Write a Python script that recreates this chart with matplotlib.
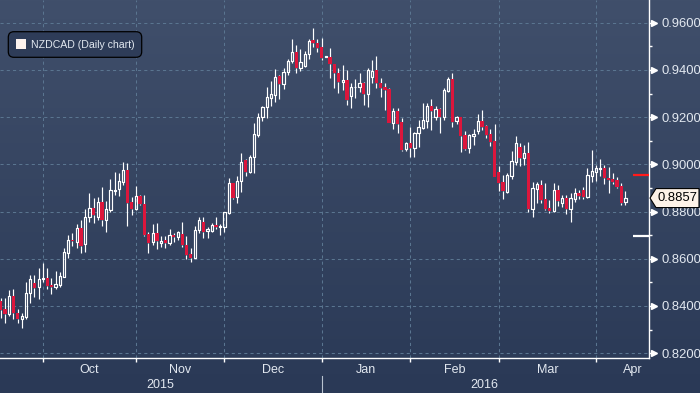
import matplotlib
matplotlib.use('Agg')
import matplotlib.pyplot as plt
import numpy as np
from matplotlib.patches import Rectangle, FancyBboxPatch, Polygon
from matplotlib.collections import LineCollection, PatchCollection
from matplotlib.transforms import blended_transform_factory

plt.rcParams['font.family'] = ['Liberation Sans', 'DejaVu Sans']

# ---- data (NZDCAD daily, 17 Sep 2015 .. 12 Apr 2016) ----
opens = [0.8421, 0.8387, 0.8366, 0.8442, 0.8370, 0.8345, 0.8353, 0.8455, 0.8497, 0.8480,
         0.8514, 0.8518, 0.8489, 0.8480, 0.8489, 0.8523, 0.8624, 0.8679, 0.8671, 0.8730,
         0.8662, 0.8777, 0.8815, 0.8777, 0.8840, 0.8764, 0.8806, 0.8887, 0.8895, 0.8925,
         0.8976, 0.8840, 0.8811, 0.8866, 0.8832, 0.8705, 0.8671, 0.8709, 0.8667, 0.8679,
         0.8667, 0.8701, 0.8692, 0.8705, 0.8658, 0.8620, 0.8603, 0.8722, 0.8756, 0.8717,
         0.8717, 0.8743, 0.8734, 0.8734, 0.8794, 0.8921, 0.8862, 0.8929, 0.9018, 0.8967,
         0.9031, 0.9124, 0.9200, 0.9243, 0.9281, 0.9294, 0.9374, 0.9340, 0.9391, 0.9438,
         0.9476, 0.9408, 0.9417, 0.9467, 0.9527, 0.9514, 0.9497, 0.9455, 0.9455, 0.9425,
         0.9387, 0.9349, 0.9357, 0.9289, 0.9326, 0.9328, 0.9345, 0.9298, 0.9370, 0.9400,
         0.9345, 0.9328, 0.9319, 0.9175, 0.9226, 0.9179, 0.9065, 0.9090, 0.9069, 0.9133,
         0.9154, 0.9184, 0.9247, 0.9200, 0.9234, 0.9200, 0.9311, 0.9361, 0.9184, 0.9200,
         0.9124, 0.9069, 0.9120, 0.9141, 0.9184, 0.9162, 0.9128, 0.9099, 0.8967, 0.8925,
         0.8883, 0.8950, 0.9010, 0.9073, 0.9027, 0.9048, 0.8811, 0.8895, 0.8912, 0.8853,
         0.8815, 0.8802, 0.8891, 0.8836, 0.8857, 0.8811, 0.8853, 0.8878, 0.8891, 0.8862,
         0.8950, 0.8967, 0.8980, 0.8984, 0.8942, 0.8938, 0.8934, 0.8908, 0.8840]
highs = [0.8434, 0.8434, 0.8467, 0.8472, 0.8387, 0.8370, 0.8501, 0.8531, 0.8531, 0.8561,
         0.8582, 0.8561, 0.8518, 0.8548, 0.8544, 0.8645, 0.8701, 0.8709, 0.8747, 0.8764,
         0.8811, 0.8878, 0.8857, 0.8862, 0.8904, 0.8845, 0.8938, 0.8967, 0.8963, 0.9010,
         0.9006, 0.8862, 0.8908, 0.8870, 0.8870, 0.8713, 0.8747, 0.8751, 0.8696, 0.8696,
         0.8726, 0.8709, 0.8717, 0.8756, 0.8696, 0.8645, 0.8739, 0.8777, 0.8777, 0.8734,
         0.8751, 0.8777, 0.8747, 0.8798, 0.8942, 0.8921, 0.8950, 0.9048, 0.9023, 0.9039,
         0.9175, 0.9217, 0.9247, 0.9328, 0.9353, 0.9404, 0.9378, 0.9408, 0.9446, 0.9531,
         0.9506, 0.9489, 0.9480, 0.9531, 0.9578, 0.9531, 0.9535, 0.9459, 0.9493, 0.9425,
         0.9408, 0.9421, 0.9400, 0.9345, 0.9361, 0.9387, 0.9349, 0.9408, 0.9442, 0.9459,
         0.9366, 0.9345, 0.9323, 0.9239, 0.9239, 0.9196, 0.9095, 0.9158, 0.9137, 0.9188,
         0.9260, 0.9260, 0.9277, 0.9247, 0.9239, 0.9323, 0.9370, 0.9387, 0.9205, 0.9200,
         0.9141, 0.9128, 0.9150, 0.9213, 0.9230, 0.9167, 0.9150, 0.9171, 0.8993, 0.8955,
         0.8963, 0.9056, 0.9120, 0.9090, 0.9082, 0.9095, 0.8925, 0.8925, 0.8934, 0.8921,
         0.8849, 0.8921, 0.8912, 0.8870, 0.8870, 0.8878, 0.8900, 0.8891, 0.8904, 0.8984,
         0.9061, 0.8997, 0.9023, 0.8997, 0.8989, 0.8963, 0.8946, 0.8921, 0.8887]
lows = [0.8349, 0.8328, 0.8357, 0.8345, 0.8328, 0.8307, 0.8345, 0.8412, 0.8438, 0.8429,
        0.8501, 0.8472, 0.8451, 0.8472, 0.8480, 0.8523, 0.8603, 0.8654, 0.8645, 0.8624,
        0.8628, 0.8756, 0.8751, 0.8764, 0.8739, 0.8713, 0.8798, 0.8870, 0.8866, 0.8912,
        0.8739, 0.8785, 0.8806, 0.8828, 0.8696, 0.8624, 0.8658, 0.8641, 0.8650, 0.8645,
        0.8658, 0.8671, 0.8679, 0.8650, 0.8599, 0.8586, 0.8603, 0.8709, 0.8688, 0.8688,
        0.8713, 0.8726, 0.8701, 0.8713, 0.8790, 0.8853, 0.8836, 0.8883, 0.8950, 0.8963,
        0.8963, 0.9116, 0.9184, 0.9196, 0.9247, 0.9264, 0.9277, 0.9319, 0.9378, 0.9429,
        0.9387, 0.9395, 0.9412, 0.9446, 0.9497, 0.9476, 0.9442, 0.9455, 0.9366, 0.9323,
        0.9302, 0.9315, 0.9251, 0.9239, 0.9281, 0.9306, 0.9251, 0.9243, 0.9345, 0.9323,
        0.9285, 0.9230, 0.9175, 0.9150, 0.9133, 0.9056, 0.9056, 0.9031, 0.9031, 0.9073,
        0.9150, 0.9154, 0.9145, 0.9188, 0.9133, 0.9188, 0.9306, 0.9158, 0.9171, 0.9052,
        0.9061, 0.9048, 0.9082, 0.9128, 0.9145, 0.9111, 0.9078, 0.8946, 0.8887, 0.8853,
        0.8878, 0.8938, 0.8997, 0.8993, 0.8997, 0.8798, 0.8777, 0.8836, 0.8836, 0.8806,
        0.8794, 0.8798, 0.8823, 0.8819, 0.8790, 0.8756, 0.8840, 0.8853, 0.8853, 0.8857,
        0.8925, 0.8929, 0.8950, 0.8917, 0.8878, 0.8917, 0.8900, 0.8828, 0.8828]
closes = [0.8383, 0.8366, 0.8442, 0.8370, 0.8345, 0.8357, 0.8455, 0.8514, 0.8476, 0.8514,
          0.8518, 0.8484, 0.8480, 0.8493, 0.8527, 0.8628, 0.8679, 0.8675, 0.8730, 0.8654,
          0.8777, 0.8815, 0.8785, 0.8840, 0.8764, 0.8811, 0.8891, 0.8891, 0.8929, 0.8976,
          0.8836, 0.8811, 0.8866, 0.8832, 0.8701, 0.8667, 0.8709, 0.8675, 0.8675, 0.8667,
          0.8701, 0.8692, 0.8713, 0.8658, 0.8616, 0.8603, 0.8722, 0.8764, 0.8713, 0.8726,
          0.8743, 0.8734, 0.8739, 0.8798, 0.8921, 0.8857, 0.8929, 0.9010, 0.8967, 0.9031,
          0.9128, 0.9200, 0.9243, 0.9285, 0.9298, 0.9370, 0.9340, 0.9391, 0.9438, 0.9476,
          0.9408, 0.9433, 0.9467, 0.9523, 0.9514, 0.9493, 0.9450, 0.9459, 0.9425, 0.9387,
          0.9349, 0.9357, 0.9272, 0.9328, 0.9328, 0.9345, 0.9298, 0.9400, 0.9395, 0.9345,
          0.9323, 0.9315, 0.9175, 0.9226, 0.9171, 0.9061, 0.9090, 0.9069, 0.9133, 0.9158,
          0.9188, 0.9247, 0.9226, 0.9234, 0.9200, 0.9315, 0.9361, 0.9179, 0.9200, 0.9120,
          0.9065, 0.9124, 0.9128, 0.9184, 0.9158, 0.9124, 0.9095, 0.8946, 0.8921, 0.8887,
          0.8955, 0.9014, 0.9090, 0.9027, 0.9048, 0.8811, 0.8900, 0.8917, 0.8849, 0.8811,
          0.8802, 0.8891, 0.8845, 0.8857, 0.8811, 0.8857, 0.8878, 0.8866, 0.8862, 0.8955,
          0.8972, 0.8984, 0.8984, 0.8942, 0.8934, 0.8925, 0.8904, 0.8836, 0.8857]

month_labels = ['Oct', 'Nov', 'Dec', 'Jan', 'Feb', 'Mar', 'Apr']
month_starts = [10, 32, 53, 76, 97, 118, 141]        # index of first trading day
month_label_pos = [21, 42.5, 64.5, 86.5, 107.5, 129.5, 149.8]
year_labels = ['2015', '2016']
year_label_pos = [37.7, 114.5]
year_break = 76
y_ticks = [0.82, 0.84, 0.86, 0.88, 0.90, 0.92, 0.94, 0.96]
y_minor = [0.83, 0.85, 0.87, 0.89, 0.91, 0.93, 0.95]
last_price = 0.8857
red_level = 0.8955
white_level = 0.8697
legend_text = 'NZDCAD (Daily chart)'

W, H = 700, 393
RED = '#dc163c'
TXT = '#e2e8f0'
GRID = '#5a7590'

fig = plt.figure(figsize=(7.0, 3.93), dpi=100)

# background gradient
bg = fig.add_axes([0, 0, 1, 1], zorder=-10)
g = np.linspace(0, 1, 256)[:, None, None]
top = np.array([0x40, 0x4f, 0x6b]) / 255.0
bot = np.array([0x2a, 0x39, 0x56]) / 255.0
img = top * (1 - g) + bot * g
bg.imshow(img, aspect='auto', extent=[0, 1, 0, 1], interpolation='bilinear')
bg.set_axis_off()

ax_h = 358 / H
ax_w = 648.7 / W
ax = fig.add_axes([0, 1 - ax_h, ax_w, ax_h])
ax.set_facecolor('none')
ax.set_xlim(-0.17, 153.5)
ax.set_ylim(0.81794, 0.96962)

# grid
for yv in y_ticks:
    ax.axhline(yv, color=GRID, lw=0.75, ls=(0, (3, 3)), zorder=1)
for xv in month_starts:
    ax.axvline(xv, color=GRID, lw=0.75, ls=(0, (3, 3)), zorder=1)

# candles
n = len(opens)
wick_segs = []
white_rects = []
red_rects = []
for i in range(n):
    o, h, l, c = opens[i], highs[i], lows[i], closes[i]
    t, b = max(o, c), min(o, c)
    if h > t:
        wick_segs.append([(i, t), (i, h)])
    if l < b:
        wick_segs.append([(i, l), (i, b)])
    if c >= o:
        white_rects.append(Rectangle((i - 0.27, b), 0.54, max(t - b, 0.00015)))
    else:
        red_rects.append(Rectangle((i - 0.39, b), 0.78, max(t - b, 0.0004)))

ax.add_collection(LineCollection(wick_segs, colors='white', linewidths=0.85, zorder=3))
ax.add_collection(PatchCollection(white_rects, facecolor='none', edgecolor='white',
                                  linewidths=0.85, zorder=4))
ax.add_collection(PatchCollection(red_rects, facecolor=RED, edgecolor='none', zorder=4))

# side markers
ax.hlines(red_level, 149.8, 153.5, color='#ff1a1a', lw=1.6, zorder=5)
ax.hlines(white_level, 149.8, 153.5, color='white', lw=1.6, zorder=5)

# spines
for s in ['top', 'left']:
    ax.spines[s].set_visible(False)
for s in ['right', 'bottom']:
    ax.spines[s].set_color('white')
    ax.spines[s].set_linewidth(1.0)

# y axis on right
ax.yaxis.tick_right()
ax.set_yticks(y_ticks)
ax.set_yticklabels(['%.4f' % v for v in y_ticks])
ax.set_yticks(y_minor, minor=True)
ax.tick_params(axis='y', which='major', length=2.5, width=1, color='white',
               labelcolor=TXT, labelsize=9.4, pad=6.5)
ax.tick_params(axis='y', which='minor', length=2.5, width=1, color='white')
trans_y = blended_transform_factory(ax.transAxes, ax.transData)
ax.plot([1 + 5.0 / 648.7] * len(y_ticks), y_ticks, ls='none', marker='>',
        markersize=4.5, color='white', transform=trans_y, clip_on=False, zorder=6)

# x axis
ax.set_xticks(month_starts)
ax.set_xticklabels([''] * len(month_starts))
ax.tick_params(axis='x', which='major', length=3, width=1, color='white', direction='out')
trans_x = blended_transform_factory(ax.transData, ax.transAxes)
for lab, pos in zip(month_labels, month_label_pos):
    ax.text(pos, (358 - 370) / 358, lab, transform=trans_x, ha='center', va='center',
            color=TXT, fontsize=9, clip_on=False)
for lab, pos in zip(year_labels, year_label_pos):
    ax.text(pos, (358 - 384.5) / 358, lab, transform=trans_x, ha='center', va='center',
            color=TXT, fontsize=9, clip_on=False)
ax.plot([year_break, year_break], [(358 - 376) / 358, (358 - 393) / 358], color='#b8c2cf',
        lw=0.8, transform=trans_x, clip_on=False)

# current price tag
fig.canvas.draw()
py = ax.transData.transform((0, last_price))[1] / (H)
hh = 9.5 / H
x0, x1, xt = 650 / W, 699 / W, 656 / W
tag = Polygon([(x0, py), (xt, py + hh), (x1, py + hh), (x1, py - hh), (xt, py - hh)],
              closed=True, transform=fig.transFigure, facecolor='#fdf2e8',
              edgecolor='black', lw=0.8, zorder=10)
fig.add_artist(tag)
fig.text(658 / W, py, '%.4f' % last_price, color='black', fontsize=9.4,
         ha='left', va='center', zorder=11)

# legend box
def P(x, y):
    return (x / W, 1 - y / H)

lx0, ly0 = P(8.3, 57.3)
lx1, ly1 = P(141.7, 31.7)
box = FancyBboxPatch((lx0, ly0), lx1 - lx0, ly1 - ly0,
                     boxstyle='round,pad=0,rounding_size=0.008',
                     transform=fig.transFigure, facecolor='#2e3c58', edgecolor='black',
                     lw=0.9, zorder=10, mutation_aspect=W / H)
fig.add_artist(box)
sx0, sy0 = P(16, 48.5)
sq = Rectangle((sx0, sy0), 9.5 / W, 9.5 / H, transform=fig.transFigure,
               facecolor='#fdf3ef', edgecolor='none', zorder=11)
fig.add_artist(sq)
tx, ty = P(31, 44.5)
fig.text(tx, ty, legend_text, color=TXT, fontsize=7.6, ha='left', va='center', zorder=12)

fig.savefig('out.png', dpi=100)
